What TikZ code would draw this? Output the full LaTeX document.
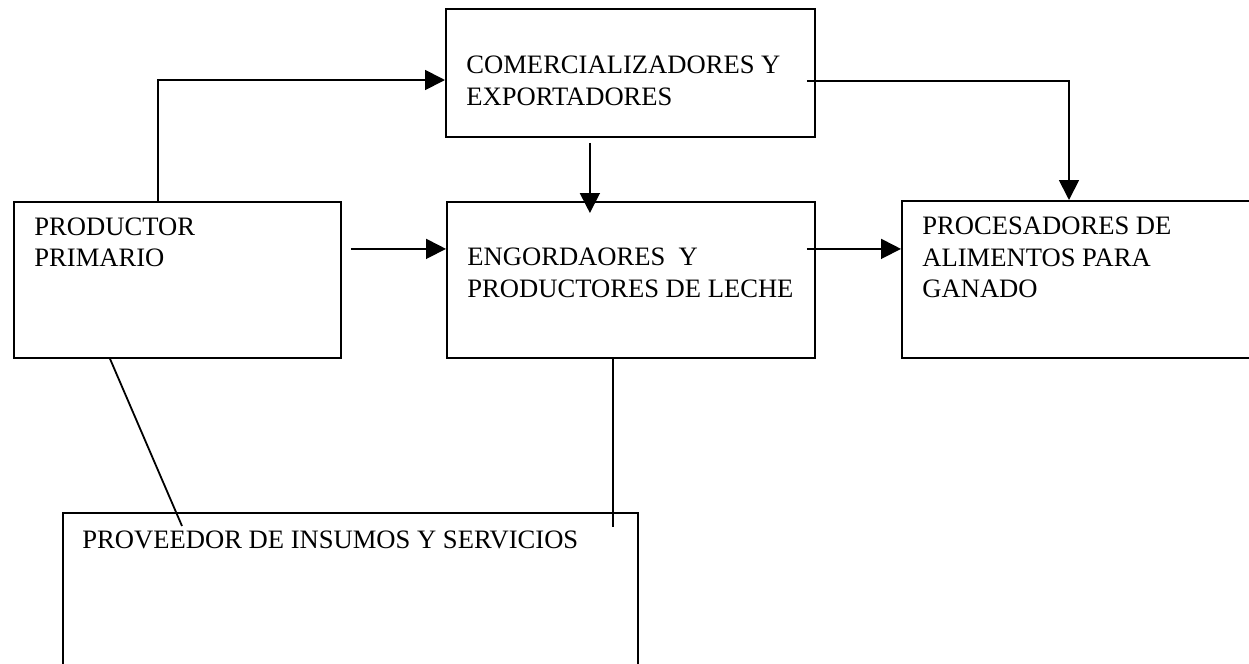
\documentclass[tikz,border=0pt]{standalone}
\usepackage{fontspec}
\setmainfont{Liberation Serif}
\usetikzlibrary{arrows.meta}
\begin{document}
\begin{tikzpicture}[x=0.5pt,y=-0.5pt,
  box/.style={draw, line width=0.9pt, rectangle, inner sep=0pt, anchor=north west},
  txt/.style={inner sep=0pt, anchor=base west, align=left, font=\fontsize{13.3pt}{15.7pt}\selectfont},
  conn/.style={line width=0.9pt},
  arr/.style={conn, -{Triangle[length=10pt,width=10pt]}}]
\useasboundingbox (0,0) rectangle (1249,664);
\clip (0,0) rectangle (1249,664);
% boxes
\node[box, minimum width=184.5pt, minimum height=64pt] (com) at (445,8) {};
\node[box, minimum width=163.5pt, minimum height=78pt] (prod) at (13,201) {};
\node[box, minimum width=184pt, minimum height=78pt] (eng) at (446,201) {};
\node[box, minimum width=200pt, minimum height=78.5pt] (proc) at (901,200) {};
\node[box, minimum width=287.5pt, minimum height=100pt] (prov) at (62,512) {};
% texts (anchored at the baseline of their last line)
\node[txt] (comt) at (466,105) {COMERCIALIZADORES Y\\EXPORTADORES};
\node[txt] (prodt) at (34,266.5) {PRODUCTOR\\PRIMARIO};
\node[txt] (engt) at (467,297) {ENGORDAORES\ \ Y\\PRODUCTORES DE LECHE};
\node[txt] (proct) at (922,297.5) {PROCESADORES DE\\ALIMENTOS PARA\\GANADO};
\node[txt] (provt) at (82,548) {PROVEEDOR DE INSUMOS Y SERVICIOS};
% connectors
\draw[arr] ([xshift=72.5pt]prod.north west) |- ([yshift=-36pt]com.north west);
\draw[arr] ([xshift=-4.5pt,yshift=-36.5pt]com.north east) -| ([xshift=84pt]proc.north west);
\draw[arr] ([xshift=-20.25pt,yshift=-2.5pt]com.south) -- ([xshift=-20.5pt,yshift=-6pt]eng.north);
\draw[arr] ([xshift=4.5pt,yshift=15.5pt]prod.east) -- ([yshift=15.5pt]eng.west);
\draw[arr] ([xshift=-4.5pt,yshift=15.5pt]eng.east) -- ([yshift=15.25pt]proc.west);
\draw[conn] ([xshift=48.5pt]prod.south west) -- ([xshift=60pt,yshift=-7pt]prov.north west);
\draw[conn] ([xshift=83.5pt]eng.south west) -- ([xshift=275.5pt,yshift=-7.5pt]prov.north west);
\end{tikzpicture}
\end{document}
